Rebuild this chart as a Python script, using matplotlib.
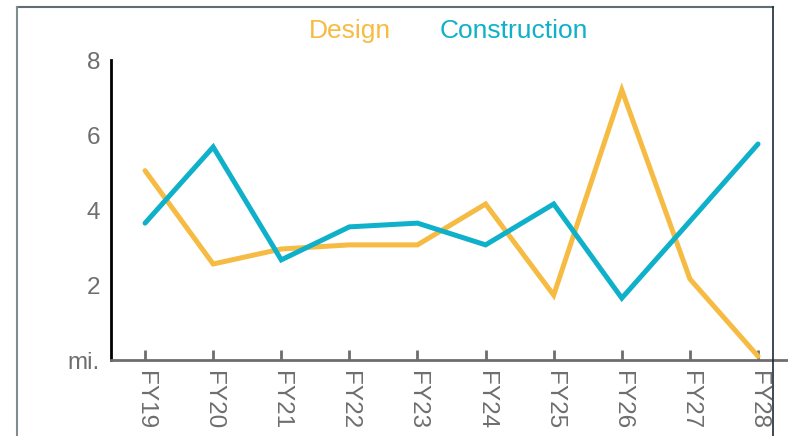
import matplotlib.pyplot as plt
from matplotlib.lines import Line2D

years = ['FY19', 'FY20', 'FY21', 'FY22', 'FY23', 'FY24', 'FY25', 'FY26', 'FY27', 'FY28']
design = [5.05, 2.56, 2.96, 3.07, 3.07, 4.16, 1.73, 7.2, 2.16, 0.1]
construction = [3.65, 5.68, 2.67, 3.55, 3.65, 3.07, 4.16, 1.65, 3.7, 5.76]
yticks = [0, 2, 4, 6, 8]
ytick_labels = ['mi.', '2', '4', '6', '8']

orange = '#F6BB42'
blue = '#0FB0C9'
grey = '#6E6E6E'

plt.rcParams['font.family'] = ['Liberation Sans', 'DejaVu Sans']

fig = plt.figure(figsize=(7.88, 4.36), dpi=100)
ax = fig.add_axes([111 / 788, 76 / 436, 677 / 788, 300 / 436])

x = list(range(len(years)))
ax.plot(x, design, color=orange, lw=3.6, solid_capstyle='round', solid_joinstyle='miter')
ax.plot(x, construction, color=blue, lw=3.6, solid_capstyle='round', solid_joinstyle='miter')

ax.set_xlim(-0.5, 9.44)
ax.set_ylim(0, 8)
ax.set_xticks(x)
ax.set_xticklabels(years, rotation=-90, color=grey, fontsize=17.5)
ax.set_yticks(yticks)
ax.set_yticklabels(ytick_labels, color=grey, fontsize=17.5)
ax.tick_params(axis='x', direction='in', length=7, width=2, color=grey, pad=8)
ax.tick_params(axis='y', length=0, pad=8)

for s in ['top', 'right']:
    ax.spines[s].set_visible(False)
ax.spines['left'].set_color('black')
ax.spines['left'].set_linewidth(2)
ax.spines['bottom'].set_color(grey)
ax.spines['bottom'].set_linewidth(2)
ax.patch.set_visible(False)

# outer frame
fig.add_artist(Line2D([17 / 788, 773 / 788], [1 - 7 / 436, 1 - 7 / 436], color='#5F6E73', lw=1.5))
fig.add_artist(Line2D([17 / 788, 17 / 788], [1 - 7 / 436, 0], color='#7F8C90', lw=1.5))
fig.add_artist(Line2D([773 / 788, 773 / 788], [1 - 7 / 436, 0], color='#1C2A33', lw=1.2))

fig.text(350 / 788, 1 - 31 / 436, 'Design', color=orange, fontsize=19, ha='center', va='center')
fig.text(514 / 788, 1 - 31 / 436, 'Construction', color=blue, fontsize=19, ha='center', va='center')

fig.savefig('out.png', dpi=100)
